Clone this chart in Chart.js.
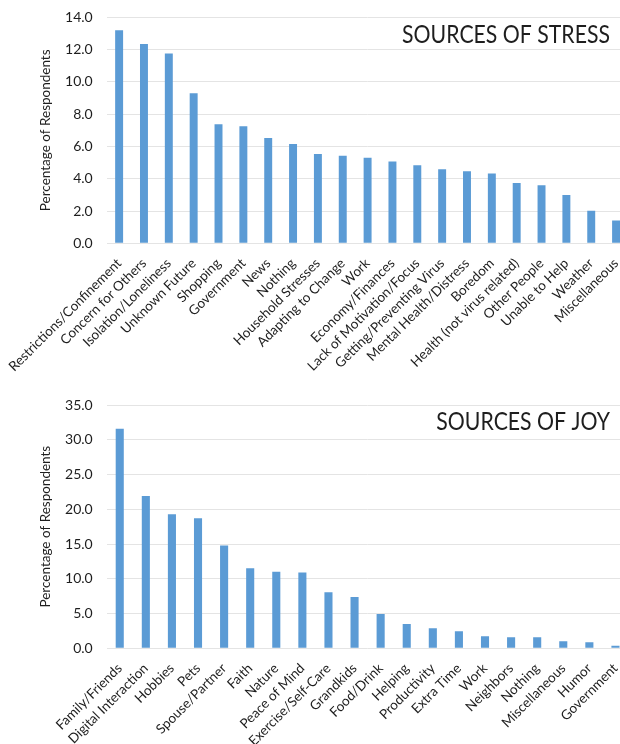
<!DOCTYPE html>
<html>
<head>
<meta charset="utf-8">
<script src="https://cdn.jsdelivr.net/npm/chart.js@4.4.1/dist/chart.umd.min.js"></script>
<style>
  html, body { margin: 0; padding: 0; background: #fff; overflow: hidden; width: 620px; height: 744px; }
  .wrap { position: absolute; left: 0; width: 632px; }
  #w1 { top: 0; height: 380px; }
  #w2 { top: 380px; height: 364px; }
  canvas { display: block; }
</style>
</head>
<body>
<div class="wrap" id="w1"><canvas id="stress" width="632" height="380"></canvas></div>
<div class="wrap" id="w2"><canvas id="joy" width="632" height="364"></canvas></div>
<script>
// Survey results: share of respondents naming each source
const stressLabels = [
  'Restrictions/Confinement', 'Concern for Others', 'Isolation/Loneliness', 'Unknown Future',
  'Shopping', 'Government', 'News', 'Nothing', 'Household Stresses', 'Adapting to Change',
  'Work', 'Economy/Finances', 'Lack of Motivation/Focus', 'Getting/Preventing Virus',
  'Mental Health/Distress', 'Boredom', 'Health (not virus related)', 'Other People',
  'Unable to Help', 'Weather', 'Miscellaneous'
];
const stressValues = [
  13.2, 12.35, 11.75, 9.3, 7.37, 7.25, 6.52, 6.15, 5.53, 5.43,
  5.3, 5.06, 4.83, 4.58, 4.46, 4.32, 3.73, 3.6, 2.99, 2.02, 1.42
];
const stressAxis = { min: 0, max: 14, step: 2 };

const joyLabels = [
  'Family/Friends', 'Digital Interaction', 'Hobbies', 'Pets', 'Spouse/Partner', 'Faith',
  'Nature', 'Peace of Mind', 'Exercise/Self-Care', 'Grandkids', 'Food/Drink', 'Helping',
  'Productivity', 'Extra Time', 'Work', 'Neighbors', 'Nothing', 'Miscellaneous', 'Humor',
  'Government'
];
const joyValues = [
  31.6, 21.9, 19.3, 18.7, 14.8, 11.5, 11.0, 10.9, 8.06, 7.38,
  4.94, 3.5, 2.88, 2.45, 1.73, 1.58, 1.58, 1.0, 0.86, 0.37
];
const joyAxis = { min: 0, max: 35, step: 5 };

const axisTitle = 'Percentage of Respondents';
const FONT = 'Lato';
const TEXT = '#1e1e1e';
const BAR = '#5b9bd5';
const GRID = '#e4e4e4';

// Heading drawn inside the plot area, right-aligned near the top,
// slightly condensed horizontally
const cornerTitle = {
  id: 'cornerTitle',
  afterDraw(chart, args, opts) {
    const { ctx, chartArea } = chart;
    ctx.save();
    ctx.font = opts.size + 'px ' + FONT;
    ctx.fillStyle = TEXT;
    ctx.textAlign = 'right';
    ctx.textBaseline = 'alphabetic';
    ctx.translate(chartArea.right - opts.dx, chartArea.top + opts.dy);
    ctx.scale(opts.squeeze, 1);
    ctx.fillText(opts.text, 0, 0);
    ctx.restore();
  }
};

function makeChart(id, labels, values, axis, cfg) {
  return new Chart(document.getElementById(id), {
    type: 'bar',
    data: {
      labels: labels,
      datasets: [{
        data: values,
        backgroundColor: BAR,
        borderWidth: 0,
        barPercentage: cfg.barPct,
        categoryPercentage: 1
      }]
    },
    options: {
      responsive: false,
      animation: false,
      devicePixelRatio: 1,
      layout: { padding: { top: cfg.top, right: 3.5, left: 0, bottom: 0 } },
      plugins: {
        legend: { display: false },
        tooltip: { enabled: false },
        cornerTitle: { text: cfg.title, size: 25, squeeze: 0.85, dx: 18.5, dy: cfg.titleDy }
      },
      scales: {
        x: {
          grid: { display: false, drawTicks: false },
          border: { display: false },
          ticks: {
            autoSkip: false,
            maxRotation: 45,
            minRotation: 45,
            padding: cfg.xPad,
            color: TEXT,
            font: { family: FONT, size: 13.5 }
          },
          afterFit(s) {
            s.height = cfg.xHeight;
            s.paddingLeft = 0;
            s.paddingRight = 0;
          }
        },
        y: {
          min: axis.min,
          max: axis.max,
          grid: { color: GRID, drawTicks: false, lineWidth: 1 },
          border: { display: false },
          ticks: {
            stepSize: axis.step,
            padding: 14,
            color: TEXT,
            font: { family: FONT, size: 14 },
            callback: v => Number(v).toFixed(1)
          },
          title: {
            display: true,
            text: axisTitle,
            color: TEXT,
            font: { family: FONT, size: 13.5 },
            padding: { top: 38, bottom: 0 }
          },
          afterFit(s) {
            s.width = 106.7;
            s.paddingTop = 0;
            s.paddingBottom = 0;
          }
        }
      }
    },
    plugins: [cornerTitle]
  });
}

makeChart('stress', stressLabels, stressValues, stressAxis, {
  barPct: 0.32, top: 17.3, xHeight: 136.7, xPad: 12,
  title: 'SOURCES OF STRESS', titleDy: 26
});
makeChart('joy', joyLabels, joyValues, joyAxis, {
  barPct: 0.31, top: 25, xHeight: 95.7, xPad: 12,
  title: 'SOURCES OF JOY', titleDy: 25
});
</script>
</body>
</html>
